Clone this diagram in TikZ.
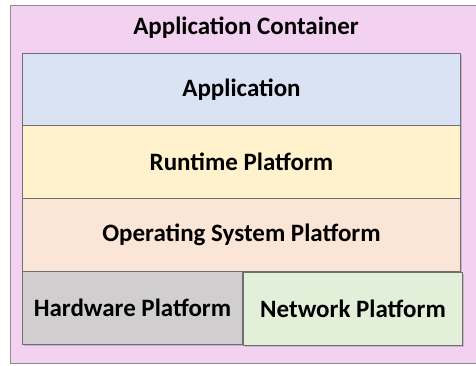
\documentclass[tikz,border=0pt]{standalone}
\usepackage{fontspec}
\setmainfont{Carlito}
\usetikzlibrary{shadows}
\definecolor{outerpink}{HTML}{F3D1F1}
\definecolor{appblue}{HTML}{DAE3F3}
\definecolor{rtyellow}{HTML}{FFF2CC}
\definecolor{ospeach}{HTML}{FBE5D6}
\definecolor{hwgray}{HTML}{D0CECE}
\definecolor{netgreen}{HTML}{E2F0D9}
\definecolor{edge}{HTML}{6F6F6F}
\tikzset{
  lbl/.style={font=\bfseries\fontsize{25}{28}\selectfont},
  layer/.style={draw=edge, line width=1pt, inner sep=0pt, lbl,
    drop shadow={shadow xshift=1.5pt, shadow yshift=-1.5pt, opacity=0.35}},
}
\begin{document}
\begin{tikzpicture}[x=1pt,y=-1pt]
\useasboundingbox (0,0) rectangle (476,366);
\fill[white] (0,0) rectangle (476,366);
\node[draw=edge!80, line width=1pt, fill=outerpink, inner sep=0pt, minimum width=468pt, minimum height=358pt, anchor=north west] (cont) at (10,5) {};
\node[lbl] (title) at (246,28) {Application Container};
\node[layer, fill=appblue, minimum width=438pt, minimum height=72pt, anchor=north west] (app) at (22,53) {Application};
\node[layer, fill=rtyellow, minimum width=438pt, minimum height=73pt, anchor=north west] (rt) at (22,125) {Runtime Platform};
\node[layer, fill=ospeach, minimum width=438pt, minimum height=73pt, anchor=north west] (os) at (22,198) {Operating System Platform};
\node[layer, fill=hwgray, minimum width=220pt, minimum height=73pt, anchor=north west] (hw) at (22,271) {Hardware Platform};
\node[layer, fill=netgreen, minimum width=219pt, minimum height=73pt, anchor=north west] (net) at (243,272) {Network Platform};
\end{tikzpicture}
\end{document}
